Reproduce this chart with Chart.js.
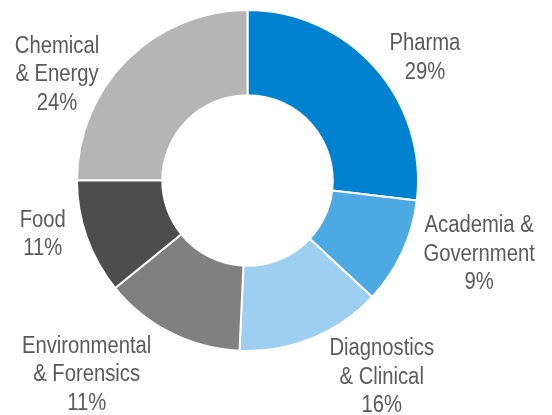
<!DOCTYPE html>
<html>
<head>
<meta charset="utf-8">
<script src="https://cdn.jsdelivr.net/npm/chart.js@4"></script>
<style>
  html, body { margin: 0; padding: 0; background: #ffffff; }
  #wrap { width: 552px; height: 415px; }
</style>
</head>
<body>
<div id="wrap"><canvas id="grafico"></canvas></div>
<script>
// segmentos, en orden horario desde las 12
const sectores = [
  ["Pharma"],
  ["Academia &", "Government"],
  ["Diagnostics", "& Clinical"],
  ["Environmental", "& Forensics"],
  ["Food"],
  ["Chemical", "& Energy"],
];
const valores = [26.9, 10.1, 13.8, 13.4, 10.9, 25.0];
const porcentajes = ["29%", "9%", "16%", "11%", "11%", "24%"];
const colores = ["#0082d0", "#4da9e1", "#9ccff0", "#808080", "#4d4d4d", "#b5b5b5"];

// desplazamiento de cada etiqueta desde el punto medio del borde exterior
const desplazamientos = [
  [50, -9],
  [77, 2],
  [70, 39],
  [-84, 42],
  [-44, -3],
  [-70, 15],
];

const etiquetasExternas = {
  id: "etiquetasExternas",
  afterDatasetsDraw(chart) {
    const ctx = chart.ctx;
    const arcos = chart.getDatasetMeta(0).data;
    const altoLinea = 28.5;
    arcos.forEach((arco, i) => {
      const { x, y, startAngle, endAngle, outerRadius } = arco.getProps(
        ["x", "y", "startAngle", "endAngle", "outerRadius"], true);
      const medio = (startAngle + endAngle) / 2;
      const px = x + Math.cos(medio) * outerRadius + desplazamientos[i][0];
      const py = y + Math.sin(medio) * outerRadius + desplazamientos[i][1];
      const lineas = sectores[i].concat(porcentajes[i]);
      const inicio = py - ((lineas.length - 1) * altoLinea) / 2;
      lineas.forEach((texto, j) => {
        ctx.save();
        ctx.translate(px, inicio + j * altoLinea);
        ctx.scale(0.88, 1); // letra condensada
        ctx.font = "23px 'Liberation Sans', Arial, sans-serif";
        ctx.fillStyle = "#5a5a5a";
        ctx.textAlign = "center";
        ctx.textBaseline = "middle";
        ctx.fillText(texto, 0, 0);
        ctx.restore();
      });
    });
  },
};

const config = {
  type: "doughnut",
  data: {
    labels: sectores.map((s) => s.join(" ")),
    datasets: [
      {
        data: valores,
        backgroundColor: colores,
        borderColor: "#ffffff",
        borderWidth: 2,
      },
    ],
  },
  options: {
    responsive: true,
    maintainAspectRatio: false,
    animation: false,
    cutout: "50%",
    layout: { padding: { top: 8, bottom: 62, left: 76, right: 133 } },
    plugins: {
      legend: { display: false },
      tooltip: { enabled: false },
    },
  },
  plugins: [etiquetasExternas],
};

new Chart(document.getElementById("grafico"), config);
</script>
</body>
</html>
